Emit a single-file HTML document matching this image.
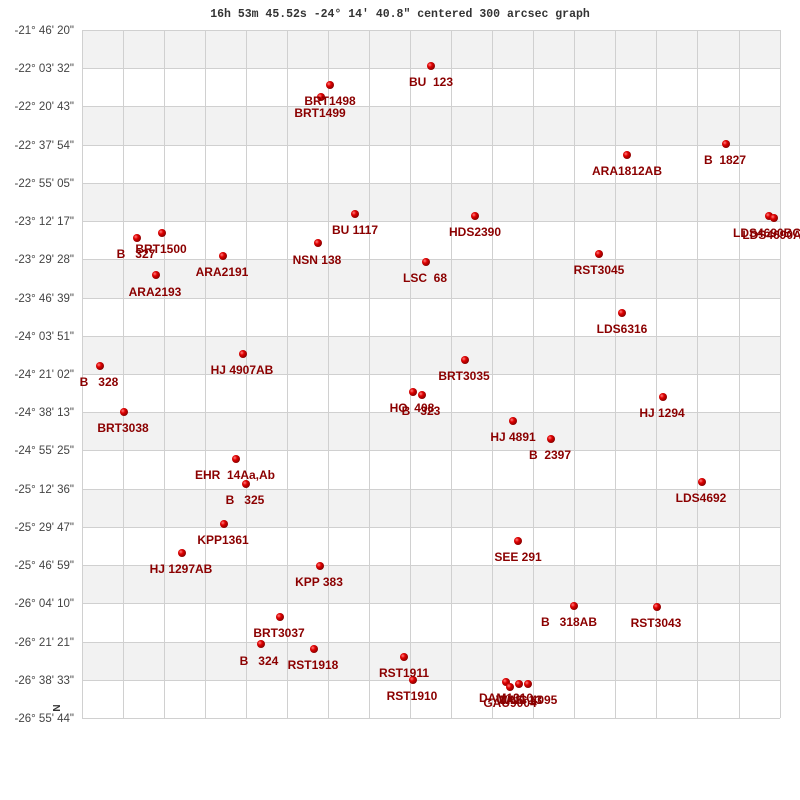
<!DOCTYPE html>
<html><head><meta charset="utf-8"><style>
html,body{margin:0;padding:0;background:#fff;width:800px;height:800px;overflow:hidden}
svg{display:block}
.t{font-family:"Liberation Sans",sans-serif;font-size:12px;font-weight:bold;fill:#8b0000;text-anchor:middle}
.ax{font-family:"Liberation Sans",sans-serif;font-size:11.5px;fill:#444;text-anchor:end}
</style></head><body>
<svg width="800" height="800" viewBox="0 0 800 800" xmlns="http://www.w3.org/2000/svg">
<defs><radialGradient id="g" cx="0.35" cy="0.35" r="0.7"><stop offset="0" stop-color="#ff8080"/><stop offset="0.4" stop-color="#e00000"/><stop offset="1" stop-color="#800000"/></radialGradient></defs>
<text x="400" y="17" font-family="Liberation Mono,monospace" font-size="11.5" font-weight="bold" fill="#333" text-anchor="middle">16h 53m 45.52s -24° 14′ 40.8" centered 300 arcsec graph</text>
<g fill="#f2f2f2">
<rect x="82" y="30" width="698" height="38"/><rect x="82" y="106" width="698" height="39"/><rect x="82" y="183" width="698" height="38"/><rect x="82" y="259" width="698" height="39"/><rect x="82" y="336" width="698" height="38"/><rect x="82" y="412" width="698" height="38"/><rect x="82" y="489" width="698" height="38"/><rect x="82" y="565" width="698" height="38"/><rect x="82" y="642" width="698" height="38"/>
</g>
<g stroke="#d0d0d0" stroke-width="1">
<path d="M82.5 30V718M123.5 30V718M164.5 30V718M205.5 30V718M246.5 30V718M287.5 30V718M328.5 30V718M369.5 30V718M410.5 30V718M451.5 30V718M492.5 30V718M533.5 30V718M574.5 30V718M615.5 30V718M656.5 30V718M697.5 30V718M739.5 30V718M780.5 30V718"/>
<path d="M82 30.5H780M82 68.5H780M82 106.5H780M82 145.5H780M82 183.5H780M82 221.5H780M82 259.5H780M82 298.5H780M82 336.5H780M82 374.5H780M82 412.5H780M82 450.5H780M82 489.5H780M82 527.5H780M82 565.5H780M82 603.5H780M82 642.5H780M82 680.5H780M82 718.5H780"/>
</g>
<g class="ax">
<text x="74" y="34">-21° 46' 20"</text><text x="74" y="72">-22° 03' 32"</text><text x="74" y="110">-22° 20' 43"</text><text x="74" y="149">-22° 37' 54"</text><text x="74" y="187">-22° 55' 05"</text><text x="74" y="225">-23° 12' 17"</text><text x="74" y="263">-23° 29' 28"</text><text x="74" y="302">-23° 46' 39"</text><text x="74" y="340">-24° 03' 51"</text><text x="74" y="378">-24° 21' 02"</text><text x="74" y="416">-24° 38' 13"</text><text x="74" y="454">-24° 55' 25"</text><text x="74" y="493">-25° 12' 36"</text><text x="74" y="531">-25° 29' 47"</text><text x="74" y="569">-25° 46' 59"</text><text x="74" y="607">-26° 04' 10"</text><text x="74" y="646">-26° 21' 21"</text><text x="74" y="684">-26° 38' 33"</text><text x="74" y="722">-26° 55' 44"</text>
</g>
<text x="0" y="0" transform="translate(60,708) rotate(-90)" font-family="Liberation Sans,sans-serif" font-size="10" font-weight="bold" fill="#333" text-anchor="middle">N</text>
<g fill="url(#g)">
<circle cx="431" cy="66" r="4"/><circle cx="330" cy="85" r="4"/><circle cx="321" cy="97" r="4"/><circle cx="726" cy="144" r="4"/><circle cx="627" cy="155" r="4"/><circle cx="355" cy="214" r="4"/><circle cx="475" cy="216" r="4"/><circle cx="769" cy="216" r="4"/><circle cx="774" cy="218" r="4"/><circle cx="162" cy="233" r="4"/><circle cx="137" cy="238" r="4"/><circle cx="318" cy="243" r="4"/><circle cx="223" cy="256" r="4"/><circle cx="599" cy="254" r="4"/><circle cx="426" cy="262" r="4"/><circle cx="156" cy="275" r="4"/><circle cx="622" cy="313" r="4"/><circle cx="243" cy="354" r="4"/><circle cx="465" cy="360" r="4"/><circle cx="100" cy="366" r="4"/><circle cx="413" cy="392" r="4"/><circle cx="422" cy="395" r="4"/><circle cx="663" cy="397" r="4"/><circle cx="124" cy="412" r="4"/><circle cx="513" cy="421" r="4"/><circle cx="551" cy="439" r="4"/><circle cx="236" cy="459" r="4"/><circle cx="246" cy="484" r="4"/><circle cx="702" cy="482" r="4"/><circle cx="224" cy="524" r="4"/><circle cx="518" cy="541" r="4"/><circle cx="182" cy="553" r="4"/><circle cx="320" cy="566" r="4"/><circle cx="574" cy="606" r="4"/><circle cx="657" cy="607" r="4"/><circle cx="280" cy="617" r="4"/><circle cx="261" cy="644" r="4"/><circle cx="314" cy="649" r="4"/><circle cx="404" cy="657" r="4"/><circle cx="413" cy="680" r="4"/><circle cx="506" cy="682" r="4"/><circle cx="510" cy="687" r="4"/><circle cx="519" cy="684" r="4"/><circle cx="528" cy="684" r="4"/>
</g>
<g class="t">
<text x="431" y="86">BU&#160;&#160;123</text><text x="330" y="105">BRT1498</text><text x="320" y="117">BRT1499</text><text x="725" y="164">B&#160;&#160;1827</text><text x="627" y="175">ARA1812AB</text><text x="355" y="234">BU 1117</text><text x="475" y="236">HDS2390</text><text x="767" y="237">LDS4690BC</text><text x="772" y="239">LDS4690A</text><text x="161" y="253">BRT1500</text><text x="136" y="258">B&#160;&#160;&#160;327</text><text x="317" y="264">NSN 138</text><text x="222" y="276">ARA2191</text><text x="599" y="274">RST3045</text><text x="425" y="282">LSC&#160;&#160;68</text><text x="155" y="296">ARA2193</text><text x="622" y="333">LDS6316</text><text x="242" y="374">HJ 4907AB</text><text x="464" y="380">BRT3035</text><text x="99" y="386">B&#160;&#160;&#160;328</text><text x="412" y="412">HO&#160;&#160;408</text><text x="421" y="415">B&#160;&#160;&#160;323</text><text x="662" y="417">HJ 1294</text><text x="123" y="432">BRT3038</text><text x="513" y="441">HJ 4891</text><text x="550" y="459">B&#160;&#160;2397</text><text x="235" y="479">EHR&#160;&#160;14Aa,Ab</text><text x="245" y="504">B&#160;&#160;&#160;325</text><text x="701" y="502">LDS4692</text><text x="223" y="544">KPP1361</text><text x="518" y="561">SEE 291</text><text x="181" y="573">HJ 1297AB</text><text x="319" y="586">KPP 383</text><text x="569" y="626">B&#160;&#160;&#160;318AB</text><text x="656" y="627">RST3043</text><text x="279" y="637">BRT3037</text><text x="259" y="665">B&#160;&#160;&#160;324</text><text x="313" y="669">RST1918</text><text x="404" y="677">RST1911</text><text x="412" y="700">RST1910</text><text x="506" y="702">DAM1310</text><text x="510" y="707">GAU9004</text><text x="519" y="704">WNO 13</text><text x="528" y="704">WNC 4095</text>
</g>
</svg>
</body></html>
